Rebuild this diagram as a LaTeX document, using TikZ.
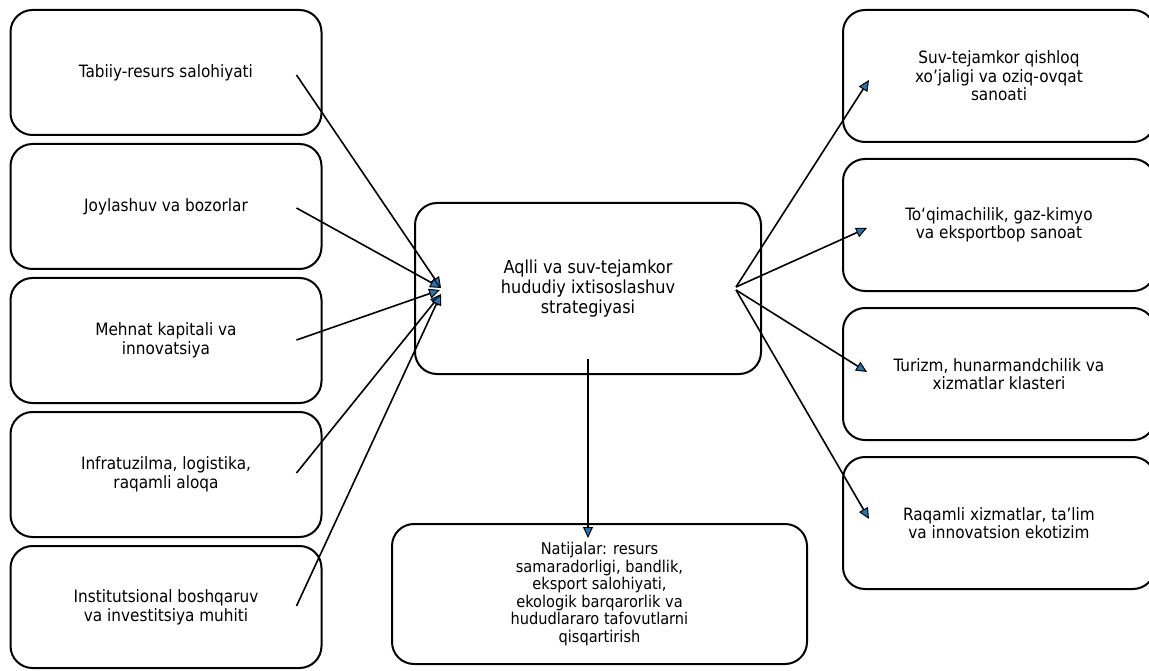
\documentclass[tikz,border=0pt]{standalone}
\usepackage{fontspec}
\setmainfont{DejaVu Sans Condensed}
\usetikzlibrary{arrows.meta}
\definecolor{tipblue}{HTML}{1F77B4}
\tikzset{
  box/.style={draw=black, line width=2pt, rounded corners=22pt, align=center,
    font=\fontsize{17}{19}\selectfont, inner sep=0pt},
  sidebox/.style={box, minimum width=311pt, minimum height=125pt},
  outbox/.style={box, minimum width=312pt, minimum height=132pt, font=\fontsize{17}{18.5}\selectfont},
  conn/.style={draw=black, line width=1.6pt,
    -{Triangle[length=11pt,width=10pt,fill=tipblue,line width=1pt]}}
}
\begin{document}
\begin{tikzpicture}[x=1pt,y=-1pt]
\useasboundingbox (0,0) rectangle (1149,671);
% left boxes
\node[sidebox] (l1) at (166,72.5) {Tabiiy-resurs salohiyati};
\node[sidebox] (l2) at (166,206.5) {Joylashuv va bozorlar};
\node[sidebox] (l3) at (166,340.5) {Mehnat kapitali va\\innovatsiya};
\node[sidebox] (l4) at (166,474.5) {Infratuzilma, logistika,\\raqamli aloqa};
\node[sidebox, minimum height=122pt] (l5) at (166,607) {Institutsional boshqaruv\\va investitsiya muhiti};
% center
\node[box, minimum width=346pt, minimum height=171pt, font=\fontsize{17.9}{20}\selectfont] (c) at (588,288.5) {Aqlli va suv-tejamkor\\hududiy ixtisoslashuv\\strategiyasi};
\node[box, minimum width=415pt, minimum height=140pt, font=\fontsize{16.2}{17.6}\selectfont] (r) at (599.5,594) {Natijalar: resurs\\samaradorligi, bandlik,\\eksport salohiyati,\\ekologik barqarorlik va\\hududlararo tafovutlarni\\qisqartirish};
% right boxes
\node[outbox] (o1) at (999,76) {Suv-tejamkor qishloq\\xo\textquoteright jaligi va oziq-ovqat\\sanoati};
\node[outbox] (o2) at (999,225) {To\textquoteleft qimachilik, gaz-kimyo\\va eksportbop sanoat};
\node[outbox] (o3) at (999,374) {Turizm, hunarmandchilik va\\xizmatlar klasteri};
\node[outbox] (o4) at (999,523) {Raqamli xizmatlar, ta\textquoteright lim\\va innovatsion ekotizim};
% connector anchor points
\coordinate (s1) at ([xshift=-26pt,yshift=-2.5pt]l1.east);
\coordinate (s2) at ([xshift=-26pt,yshift=-1.5pt]l2.east);
\coordinate (s3) at ([xshift=-26pt,yshift=0.5pt]l3.east);
\coordinate (s4) at ([xshift=-26pt,yshift=1.5pt]l4.east);
\coordinate (s5) at ([xshift=-26pt,yshift=1pt]l5.east);
\coordinate (t1) at (441,288);
\coordinate (t2) at (441,288);
\coordinate (t3) at (440,290);
\coordinate (t4) at (441,294);
\coordinate (t5) at (441,294);
\coordinate (cr1) at ([xshift=-26pt,yshift=1.5pt]c.east);
\coordinate (cr2) at ([xshift=-26pt,yshift=-1.5pt]c.east);
\coordinate (cb) at ([yshift=16pt]c.south);
\coordinate (rt) at ([yshift=-15pt]r.north -| c.south);
\coordinate (e1) at (869,80);
\coordinate (e2) at (867,228);
\coordinate (e3) at (867,372);
\coordinate (e4) at (869,519);
% connectors
\draw[conn] (s1) -- (t1);
\draw[conn] (s2) -- (t2);
\draw[conn] (s3) -- (t3);
\draw[conn] (s4) -- (t4);
\draw[conn] (s5) -- (t5);
\draw[conn] (cr1) -- (e1);
\draw[conn] (cr1) -- (e2);
\draw[conn] (cr2) -- (e3);
\draw[conn] (cr2) -- (e4);
\draw[conn] (cb) -- (rt);
\end{tikzpicture}
\end{document}
